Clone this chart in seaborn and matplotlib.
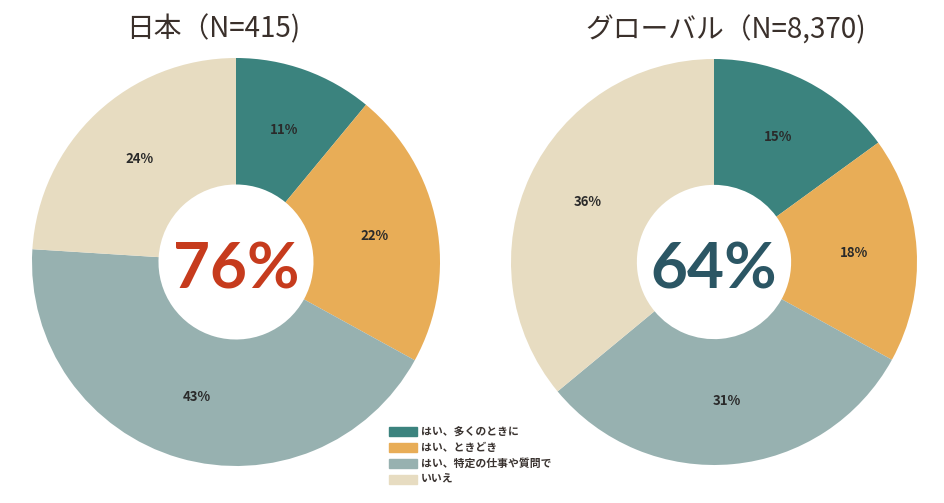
import matplotlib.pyplot as plt
import seaborn as sns

# Data
categories = ['はい、多くのときに', 'はい、ときどき', 'はい、特定の仕事や質問で', 'いいえ']
japan_values = [11, 22, 43, 24]
global_values = [15, 18, 31, 36]
titles = ['日本（N=415)', 'グローバル（N=8,370)']
center_labels = ['76%', '64%']

sns.set_theme(style='white')
plt.rcParams['font.family'] = ['Noto Sans CJK JP', 'DejaVu Sans']

colors = ['#3b837e', '#e8ad57', '#97b1b0', '#e7dcc1']
center_colors = ['#c63b1d', '#2b5664']

fig = plt.figure(figsize=(9.44, 5.03), dpi=100)
fig.patch.set_facecolor('white')

# axes boxes in figure fractions (left, bottom, width, height)
boxes = [(32 / 944, 37 / 503, 408 / 944, 408 / 503),
         (511 / 944, 38 / 503, 406 / 944, 406 / 503)]
title_x = [-0.11, 0.06]

for values, title, center, ccol, box, tx in zip([japan_values, global_values], titles,
                                               center_labels, center_colors, boxes, title_x):
    ax = fig.add_axes(box)
    wedges, texts, autotexts = ax.pie(
        values, colors=colors, startangle=90, counterclock=False,
        autopct=lambda p: f'{p:.0f}%', pctdistance=0.69, radius=1.0,
        wedgeprops=dict(width=0.62, linewidth=0),
        textprops=dict(fontsize=9.5, fontweight='bold', color='#2a2a2a'))
    ax.set_xlim(-1, 1)
    ax.set_ylim(-1, 1)
    ax.set_aspect('equal')
    ax.axis('off')
    ax.text(0, -0.04, center, ha='center', va='center', fontsize=46,
            fontweight='bold', color=ccol, family=['Lato', 'DejaVu Sans'])
    ax.text(tx, 1.065, title, ha='center', va='bottom', fontsize=20, color='#3a302b')

legend_ax = fig.add_axes((386 / 944, 7 / 503, 170 / 944, 80 / 503))
legend_ax.axis('off')
handles = [plt.Rectangle((0, 0), 1, 1, color=c) for c in colors]
leg = legend_ax.legend(handles, categories, loc='center left', frameon=True,
                       facecolor='white', edgecolor='white',
                       prop=dict(size=7.8, weight='bold'),
                       handlelength=2.6, handleheight=0.9, handletextpad=0.35,
                       labelspacing=0.5, borderpad=0.3, borderaxespad=0)
for t in leg.get_texts():
    t.set_color('#3a3330')

fig.savefig('out.png', dpi=100)
